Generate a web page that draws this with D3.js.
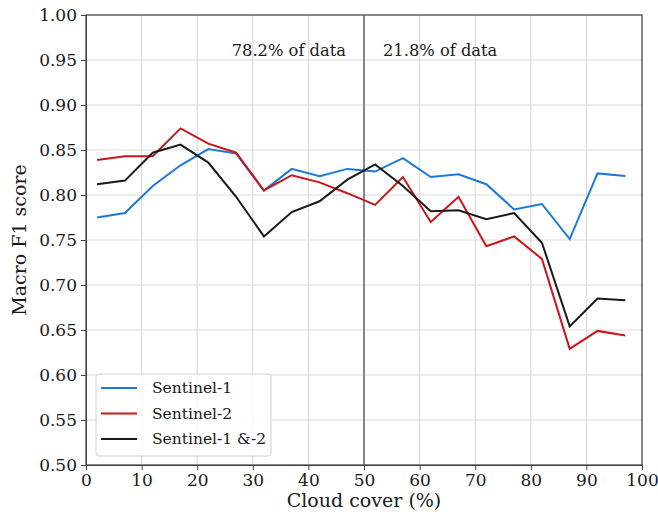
<!DOCTYPE html>
<html><head><meta charset="utf-8">
<script src="https://cdn.jsdelivr.net/npm/d3@7"></script>
<style>body{margin:0;background:#fff}svg{display:block}</style>
</head><body>
<script>
const cloudCover = [2,7,12,17,22,27,32,37,42,47,52,57,62,67,72,77,82,87,92,97];
const sentinel1  = [0.775,0.780,0.810,0.833,0.851,0.846,0.805,0.829,0.821,0.829,0.826,0.841,0.820,0.823,0.812,0.784,0.790,0.751,0.824,0.821];
const sentinel2  = [0.839,0.843,0.843,0.874,0.857,0.847,0.805,0.822,0.814,0.802,0.789,0.820,0.770,0.798,0.743,0.754,0.729,0.629,0.649,0.644];
const sentinel12 = [0.812,0.816,0.847,0.856,0.836,0.798,0.754,0.781,0.793,0.817,0.834,0.810,0.782,0.783,0.773,0.780,0.747,0.654,0.685,0.683];
const seriesNames = ["Sentinel-1","Sentinel-2","Sentinel-1 &-2"];
const seriesColors = ["#1a7ad6","#c8161a","#1a1a1a"];
const xTicks = [0,10,20,30,40,50,60,70,80,90,100];
const yTicks = [0.50,0.55,0.60,0.65,0.70,0.75,0.80,0.85,0.90,0.95,1.00];
const annotations = [{x:50, left:"78.2% of data", right:"21.8% of data"}];

const W=658,H=520, m={l:86,r:16,t:15,b:55};
const font = "'DejaVu Serif', 'Liberation Serif', serif";
const svg = d3.select("body").append("svg").attr("width",W).attr("height",H);
const x = d3.scaleLinear().domain([0,100]).range([m.l,W-m.r]);
const y = d3.scaleLinear().domain([0.5,1.0]).range([H-m.b,m.t]);

// grid
svg.append("g").selectAll("line").data(xTicks).join("line")
  .attr("x1",d=>x(d)).attr("x2",d=>x(d)).attr("y1",y(0.5)).attr("y2",y(1))
  .attr("stroke","#dcdcdc").attr("stroke-width",1.2);
svg.append("g").selectAll("line").data(yTicks).join("line")
  .attr("y1",d=>y(d)).attr("y2",d=>y(d)).attr("x1",x(0)).attr("x2",x(100))
  .attr("stroke","#dcdcdc").attr("stroke-width",1.2);

// axes
const xa = svg.append("g").attr("transform",`translate(0,${y(0.5)})`)
  .call(d3.axisBottom(x).tickValues(xTicks).tickSize(5).tickPadding(4).tickFormat(d3.format("d")));
const ya = svg.append("g").attr("transform",`translate(${x(0)},0)`)
  .call(d3.axisLeft(y).tickValues(yTicks).tickSize(5).tickPadding(4).tickFormat(d3.format(".2f")));
[xa,ya].forEach(a=>{
  a.selectAll("text").attr("font-family",font).attr("font-size",17).attr("fill","#1a1a1a");
  a.selectAll("line").attr("stroke","#444");
  a.select(".domain").attr("stroke","#444");
});
// frame
svg.append("rect").attr("x",x(0)).attr("y",y(1)).attr("width",x(100)-x(0)).attr("height",y(0.5)-y(1))
  .attr("fill","none").attr("stroke","#444").attr("stroke-width",1.2);

// vertical divider
annotations.forEach(a=>{
  svg.append("line").attr("x1",x(a.x)).attr("x2",x(a.x)).attr("y1",y(1)).attr("y2",y(0.5))
    .attr("stroke","#666").attr("stroke-width",1.5);
  svg.append("text").attr("x",x(a.x)-18).attr("y",y(0.955)).attr("text-anchor","end")
    .attr("font-family",font).attr("font-size",16.3).attr("fill","#1a1a1a").text(a.left);
  svg.append("text").attr("x",x(a.x)+19).attr("y",y(0.955)).attr("text-anchor","start")
    .attr("font-family",font).attr("font-size",16.3).attr("fill","#1a1a1a").text(a.right);
});

// lines
const allSeries = [sentinel1, sentinel2, sentinel12];
const line = d3.line().x((d,i)=>x(cloudCover[i])).y(d=>y(d));
allSeries.forEach((s,k)=>{
  svg.append("path").datum(s).attr("d",line).attr("fill","none")
    .attr("stroke",seriesColors[k]).attr("stroke-width",2).attr("stroke-linejoin","miter");
});

// axis titles
svg.append("text").attr("x",(x(0)+x(100))/2).attr("y",H-13).attr("text-anchor","middle")
  .attr("font-family",font).attr("font-size",19).attr("fill","#1a1a1a").text("Cloud cover (%)");
svg.append("text").attr("transform",`translate(26,${(y(0.5)+y(1))/2}) rotate(-90)`).attr("text-anchor","middle")
  .attr("font-family",font).attr("font-size",19).attr("fill","#1a1a1a").text("Macro F1 score");

// legend
const lg = svg.append("g").attr("transform","translate(96,374)");
lg.append("rect").attr("width",175).attr("height",82).attr("rx",3)
  .attr("fill","rgba(255,255,255,0.85)").attr("stroke","#cfcfcf");
seriesNames.forEach((n,i)=>{
  const yy = 14 + i*25.5;
  lg.append("line").attr("x1",5).attr("x2",41).attr("y1",yy).attr("y2",yy)
    .attr("stroke",seriesColors[i]).attr("stroke-width",2);
  lg.append("text").attr("x",56).attr("y",yy+5).attr("font-family",font).attr("font-size",15.5)
    .attr("fill","#1a1a1a").text(n);
});
</script>
</body></html>
